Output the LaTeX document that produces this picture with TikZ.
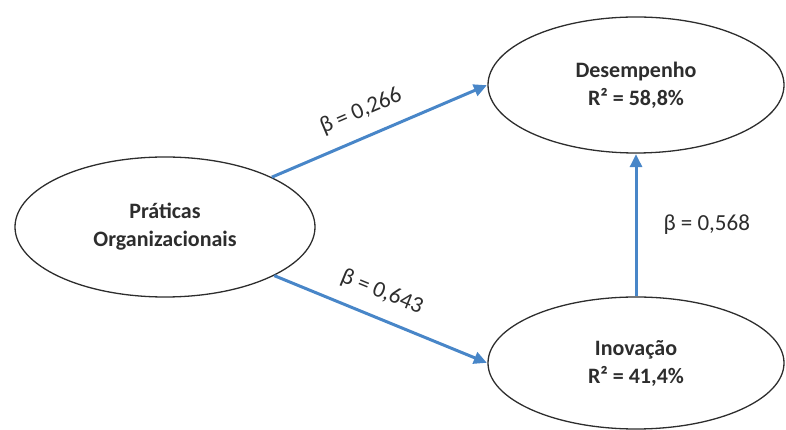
\documentclass[tikz,border=0pt]{standalone}
\usepackage{fontspec}
\setmainfont{Carlito}
\usetikzlibrary{arrows.meta,shapes.geometric}
\definecolor{pathblue}{RGB}{72,134,200}
\definecolor{inkgrey}{RGB}{45,45,45}
\tikzset{
  construct/.style={ellipse, draw=inkgrey, line width=1.3pt, inner sep=0pt,
    align=center, font=\fontsize{22}{28}\selectfont\bfseries, text=inkgrey},
  path arrow/.style={draw=pathblue, line width=3pt,
    -{Triangle[length=13pt,width=12pt]}, shorten >=0.5pt},
  coef/.style={font=\fontsize{23}{26}\selectfont, text=inkgrey, inner sep=2pt}
}
\begin{document}
\begin{tikzpicture}[x=1pt,y=1pt]
  \useasboundingbox (0,0) rectangle (786,430);
  % latent constructs
  \node[construct, minimum width=300pt, minimum height=140pt] (prat) at (165,203)
    {Práticas\\Organizacionais};
  \node[construct, minimum width=296pt, minimum height=136pt] (des) at (636,345)
    {Desempenho\\R² = 58,8\%};
  \node[construct, minimum width=296pt, minimum height=132pt] (ino) at (636,67)
    {Inovação\\R² = 41,4\%};
  % structural paths with coefficients
  \draw[path arrow] (prat.25) -- node[coef, sloped, above=12pt, pos=0.46] {β = 0,266} (des.west);
  \draw[path arrow] (prat.-24) -- node[coef, sloped, above=12pt, pos=0.46] {β = 0,643} (ino.west);
  \draw[path arrow] (ino.north) -- node[coef, right=24pt, pos=0.5] {β = 0,568} (des.south);
\end{tikzpicture}
\end{document}
